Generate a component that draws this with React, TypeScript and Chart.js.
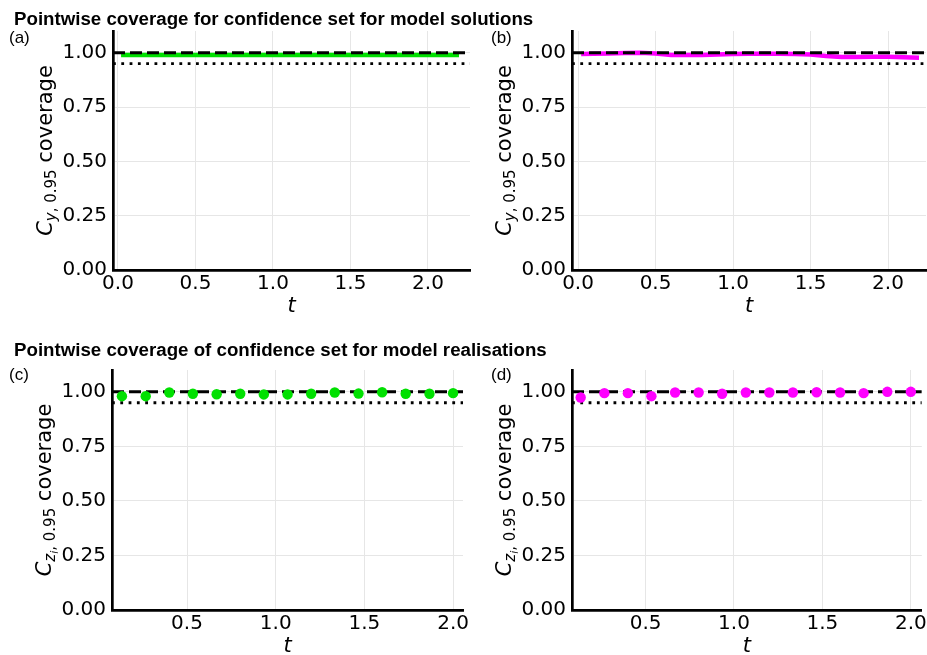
import React, { useEffect, useRef } from 'react';
import { Chart, registerables } from 'chart.js';

Chart.register(...registerables);

// ---------- data ----------
const SOL_T = [0.02, 0.1, 0.2, 0.3, 0.4, 0.5, 0.6, 0.7, 0.8, 0.9, 1.0, 1.1, 1.2, 1.3, 1.4, 1.5, 1.6, 1.7, 1.8, 1.9, 2.0, 2.1, 2.2];
const SOL_COV_A = [0.989, 0.989, 0.989, 0.989, 0.989, 0.989, 0.989, 0.989, 0.989, 0.989, 0.989, 0.989, 0.989, 0.989, 0.989, 0.989, 0.989, 0.989, 0.989, 0.989, 0.989, 0.989, 0.989];
const SOL_COV_B = [0.994, 0.995, 0.997, 0.999, 1.0, 0.996, 0.99, 0.99, 0.99, 0.992, 0.994, 0.995, 0.995, 0.995, 0.994, 0.992, 0.985, 0.98, 0.98, 0.981, 0.981, 0.979, 0.977];
const REAL_T = [0.133, 0.267, 0.4, 0.533, 0.667, 0.8, 0.933, 1.067, 1.2, 1.333, 1.467, 1.6, 1.733, 1.867, 2.0];
const REAL_COV_C = [0.98, 0.98, 0.997, 0.991, 0.989, 0.991, 0.988, 0.988, 0.991, 0.997, 0.992, 0.998, 0.991, 0.991, 0.994];
const REAL_COV_D = [0.974, 0.994, 0.994, 0.98, 0.997, 0.997, 0.991, 0.997, 0.997, 0.997, 0.998, 0.997, 0.994, 1.0, 1.0];
const Y_TICKS = [0, 0.25, 0.5, 0.75, 1.0];
const X_TICKS_SOL = [0, 0.5, 1.0, 1.5, 2.0];
const X_TICKS_REAL = [0.5, 1.0, 1.5, 2.0];
const NOMINAL = 1.0;
const LEVEL = 0.95;
const TITLE_SOL = 'Pointwise coverage for confidence set for model solutions';
const TITLE_REAL = 'Pointwise coverage of confidence set for model realisations';

const W = 927;
const H = 655;
const GREEN = '#00e000';
const MAGENTA = '#ff00ff';
const TICK_FONT = 'DejaVu Sans';

type Part = { text: string; size: number; italic?: boolean; dy: number };

const Y_TITLE_SOL: Part[] = [
  { text: 'C', size: 21, italic: true, dy: 0 },
  { text: 'y', size: 15, italic: true, dy: 4 },
  { text: ', 0.95', size: 15, dy: 4 },
  { text: ' coverage', size: 21, dy: 0 },
];
const Y_TITLE_REAL: Part[] = [
  { text: 'C', size: 21, italic: true, dy: 0 },
  { text: 'z', size: 15, italic: true, dy: 4 },
  { text: 'i', size: 11, italic: true, dy: 7 },
  { text: ', 0.95', size: 15, dy: 4 },
  { text: ' coverage', size: 21, dy: 0 },
];

type PanelDef = {
  box: { L: number; T: number; R: number; B: number };
  xMin: number;
  xMax: number;
  xTicks: number[];
  t: number[];
  cov: number[];
  color: string;
  kind: 'line' | 'points';
  yTitle: Part[];
};

const PANELS: PanelDef[] = [
  { box: { L: 113, T: 31, R: 470, B: 270 }, xMin: -0.032, xMax: 2.271, xTicks: X_TICKS_SOL, t: SOL_T, cov: SOL_COV_A, color: GREEN, kind: 'line', yTitle: Y_TITLE_SOL },
  { box: { L: 572, T: 31, R: 926, B: 270 }, xMin: -0.039, xMax: 2.245, xTicks: X_TICKS_SOL, t: SOL_T, cov: SOL_COV_B, color: MAGENTA, kind: 'line', yTitle: Y_TITLE_SOL },
  { box: { L: 112, T: 370, R: 463, B: 610 }, xMin: 0.077, xMax: 2.056, xTicks: X_TICKS_REAL, t: REAL_T, cov: REAL_COV_C, color: GREEN, kind: 'points', yTitle: Y_TITLE_REAL },
  { box: { L: 572, T: 370, R: 924, B: 610 }, xMin: 0.084, xMax: 2.062, xTicks: X_TICKS_REAL, t: REAL_T, cov: REAL_COV_D, color: MAGENTA, kind: 'points', yTitle: Y_TITLE_REAL },
];

const partFont = (p: Part) => `${p.italic ? 'italic ' : ''}${p.size}px "DejaVu Sans"`;

const axisTitlePlugin = {
  id: 'axisTitles',
  afterDraw(chart: any, _args: any, opts: any) {
    const ctx = chart.ctx as CanvasRenderingContext2D;
    const ca = chart.chartArea;
    ctx.save();
    ctx.fillStyle = '#000';
    ctx.textBaseline = 'alphabetic';
    ctx.textAlign = 'center';
    ctx.font = 'italic 21px "DejaVu Sans"';
    ctx.fillText('t', (ca.left + ca.right) / 2, ca.bottom + 42);

    const parts: Part[] = opts.parts || [];
    ctx.textAlign = 'left';
    let total = 0;
    const widths = parts.map((p) => {
      ctx.font = partFont(p);
      const w = ctx.measureText(p.text).width;
      total += w;
      return w;
    });
    ctx.translate(ca.left - 61, (ca.top + ca.bottom) / 2);
    ctx.rotate(-Math.PI / 2);
    let x = -total / 2;
    parts.forEach((p, i) => {
      ctx.font = partFont(p);
      ctx.fillText(p.text, x, p.dy);
      x += widths[i];
    });
    ctx.restore();
  },
};

function Panel({ def }: { def: PanelDef }) {
  const ref = useRef<HTMLCanvasElement | null>(null);
  useEffect(() => {
    if (!ref.current) return;
    const { L, T, R, B } = def.box;
    const dataPts = def.t.map((x, i) => ({ x, y: def.cov[i] }));
    const dashed = {
      type: 'line',
      data: [{ x: def.xMin, y: NOMINAL }, { x: def.xMax, y: NOMINAL }],
      borderColor: '#000',
      borderWidth: 3,
      borderDash: [12, 5],
      borderCapStyle: 'butt',
      pointRadius: 0,
    };
    const dotted = {
      type: 'line',
      data: [{ x: def.xMin, y: LEVEL }, { x: def.xMax, y: LEVEL }],
      borderColor: '#000',
      borderWidth: 2.8,
      borderDash: [2.8, 5.5],
      borderCapStyle: 'butt',
      pointRadius: 0,
    };
    const series =
      def.kind === 'line'
        ? { type: 'line', data: dataPts, borderColor: def.color, borderWidth: 4.5, pointRadius: 0, tension: 0 }
        : { type: 'scatter', data: dataPts, backgroundColor: def.color, pointRadius: 5.2, pointBorderWidth: 0, showLine: false };
    // first dataset is drawn on top
    const datasets = def.kind === 'line' ? [dashed, dotted, series] : [series, dashed, dotted];

    const chart = new Chart(ref.current, {
      type: 'line',
      data: { datasets: datasets as any },
      options: {
        responsive: false,
        animation: false,
        events: [],
        layout: { padding: { left: 0, top: T, right: W - R, bottom: 0 } },
        plugins: {
          legend: { display: false },
          tooltip: { enabled: false },
          axisTitles: { parts: def.yTitle },
        } as any,
        scales: {
          x: {
            type: 'linear',
            min: def.xMin,
            max: def.xMax,
            afterBuildTicks: (s: any) => {
              s.ticks = def.xTicks.map((v) => ({ value: v }));
            },
            afterFit: (s: any) => {
              s.height = H - B;
              s.paddingLeft = 0;
              s.paddingRight = 0;
            },
            grid: { color: '#e6e6e6', lineWidth: 1, drawTicks: false },
            border: { display: true, color: '#000', width: 2.7 },
            ticks: {
              autoSkip: false,
              maxRotation: 0,
              padding: 2,
              color: '#000',
              font: { family: TICK_FONT, size: 20 },
              callback: (v: any) => Number(v).toFixed(1),
            },
          },
          y: {
            type: 'linear',
            min: 0,
            max: 1.1,
            afterBuildTicks: (s: any) => {
              s.ticks = Y_TICKS.map((v) => ({ value: v }));
            },
            afterFit: (s: any) => {
              s.width = L;
              s.paddingTop = 0;
              s.paddingBottom = 0;
            },
            grid: { color: '#e6e6e6', lineWidth: 1, drawTicks: false },
            border: { display: true, color: '#000', width: 2.7 },
            ticks: {
              autoSkip: false,
              padding: 6,
              color: '#000',
              font: { family: TICK_FONT, size: 20 },
              callback: (v: any) => Number(v).toFixed(2),
            },
          },
        },
      } as any,
      plugins: [axisTitlePlugin],
    });
    return () => chart.destroy();
  }, [def]);
  return (
    <canvas
      ref={ref}
      width={W}
      height={H}
      style={{ position: 'absolute', left: 0, top: 0, width: W, height: H }}
    />
  );
}

const textStyle = (left: number, baseline: number, size: number, bold: boolean): React.CSSProperties => ({
  position: 'absolute',
  left,
  top: baseline - 0.8465 * size,
  fontFamily: '"Liberation Sans", Arial, sans-serif',
  fontSize: size,
  fontWeight: bold ? 'bold' : 'normal',
  lineHeight: `${size}px`,
  whiteSpace: 'nowrap',
  color: '#000',
});

export default function App() {
  return (
    <div style={{ position: 'absolute', left: 0, top: 0, width: W, height: H, background: '#fff', overflow: 'hidden' }}>
      {PANELS.map((p, i) => (
        <Panel key={i} def={p} />
      ))}
      <div style={textStyle(14, 26, 18.7, true)}>{TITLE_SOL}</div>
      <div style={textStyle(14, 357, 18.7, true)}>{TITLE_REAL}</div>
      <div style={textStyle(9, 43, 17, false)}>(a)</div>
      <div style={textStyle(491, 43, 17, false)}>(b)</div>
      <div style={textStyle(9, 380, 17, false)}>(c)</div>
      <div style={textStyle(491, 380, 17, false)}>(d)</div>
    </div>
  );
}
